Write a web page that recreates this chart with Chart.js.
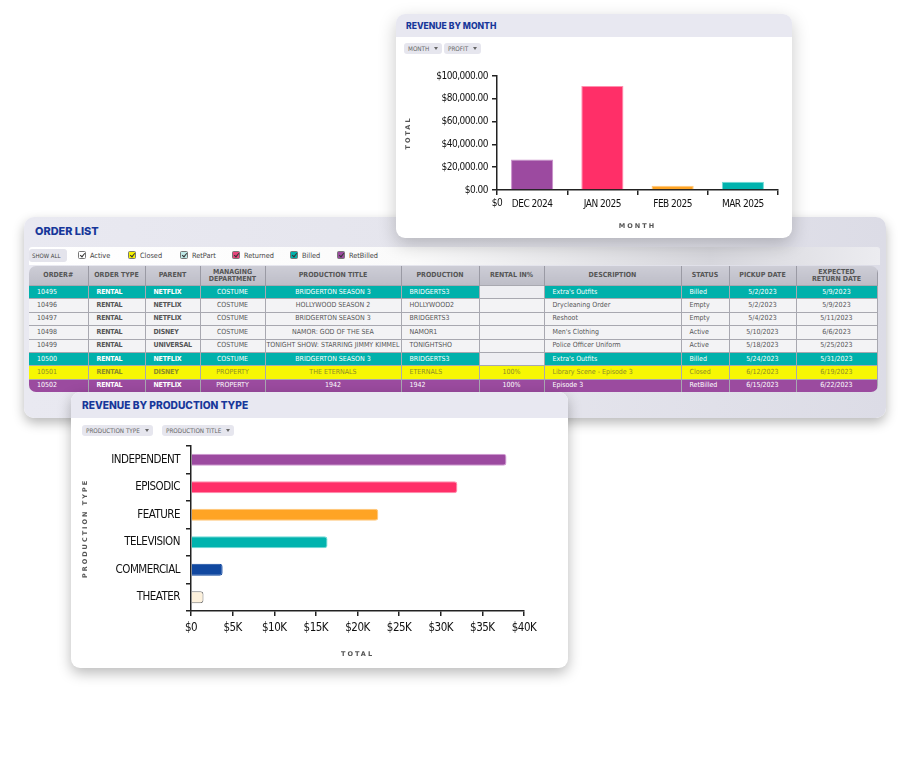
<!DOCTYPE html>
<html>
<head>
<meta charset="utf-8">
<title>Revenue dashboard</title>
<script src="https://cdn.jsdelivr.net/npm/chart.js"></script>
<style>
  html, body { margin: 0; padding: 0; background: #fff; width: 921px; height: 776px; overflow: hidden; }
  body { position: relative; font-family: 'DejaVu Sans Condensed', 'Liberation Sans', Arial, sans-serif; }
  .card { position: absolute; background: #fff; border-radius: 9px; overflow: hidden; }
  .card-head { position: absolute; left: 0; top: 0; right: 0; background: #e8e8f1; }
  .card-title { position: absolute; font-family: Inter, 'Open Sans', sans-serif; font-weight: 800; color: #17379a; white-space: nowrap; }
  .dd { position: absolute; background: #e6e6ee; border-radius: 3px; color: #666; font-size: 6.3px; line-height: 11px; height: 11px; padding: 0 4px; white-space: nowrap; }
  .dd::after { content: ''; display: inline-block; margin-left: 5px; vertical-align: 1px; border-left: 2.5px solid transparent; border-right: 2.5px solid transparent; border-top: 3px solid #666; }
  canvas { position: absolute; }

  #orders { left: 24px; top: 217px; width: 862px; height: 201px; background: linear-gradient(90deg, #e9e9f1 0%, #e4e4ec 60%, #dcdce6 100%); box-shadow: 0 5px 12px rgba(0,0,0,0.28); border-radius: 10px; overflow: visible; }
  #filters { position: absolute; left: 5px; top: 30px; width: 851px; height: 18px; background: linear-gradient(90deg, #fff 0%, #fafafa 45%, #d6d6dc 80%, #ececf0 100%); border-radius: 3px 3px 0 0; }
  .showall { position: absolute; left: 0; top: 2px; width: 38px; height: 13px; background: #e4e4ec; border-radius: 3px; font-size: 6px; line-height: 13px; text-indent: 3px; color: #444; }
  .chk { position: absolute; top: 4px; font-size: 7.3px; line-height: 9px; color: #444; white-space: nowrap; }
  .chk i { display: inline-block; width: 6px; height: 6px; border: 1px solid #777; border-radius: 1.5px; margin-right: 4px; vertical-align: -1px; position: relative; }
  .chk i::after { content: ''; position: absolute; left: 1.5px; top: -0.5px; width: 2px; height: 4px; border-right: 1px solid #333; border-bottom: 1px solid #333; transform: rotate(40deg); }
  table { position: absolute; left: 5px; top: 49px; border-collapse: collapse; table-layout: fixed; width: 848px; border-radius: 7px; overflow: hidden; }
  th { height: 19px; background: linear-gradient(#cdcdd6, #bdbdc7); color: #555; font-size: 7px; font-weight: bold; line-height: 6.5px; border-right: 1px solid #9a9aa4; padding: 0; text-align: center; }
  td { height: 12.4px; font-size: 7px; line-height: 7px; padding: 0 0 0 8px; border-right: 1px solid #a8a8b0; border-top: 1px solid #a8a8b0; white-space: nowrap; overflow: hidden; color: #555; background: #f3f3f5; }
  td.c { text-align: center; padding: 0; }
  td.b { font-weight: bold; letter-spacing: -0.2px; }
  tr.teal td { background: #00b1ab; color: #fff; }
  tr.teal td.blank { background: #eeeef2; }
  tr.yellow td { background: #f7f703; color: #8c8c2a; }
  tr.purple td { background: #9b4b9f; color: #fff; }
  tr.purple td.blank { background: #8e4193; }
</style>
</head>
<body>
<script>
// ---- chart data ----
const months = ['DEC 2024', 'JAN 2025', 'FEB 2025', 'MAR 2025'];
const monthTotals = [26700, 91200, 3700, 7300];
const monthColors = ['#9c4aa0', '#ff2f68', '#ffa424', '#00b3ae'];
const monthBorders = ['#c98fcb', '#ff8fae', '#ffc77a', '#6fdcd6'];
const monthZeroLabel = '$0';

const prodTypes = ['INDEPENDENT', 'EPISODIC', 'FEATURE', 'TELEVISION', 'COMMERCIAL', 'THEATER'];
const prodTotals = [37900, 32000, 22500, 16400, 3800, 1500];
const prodColors = ['#9c4aa0', '#ff2f68', '#ffa424', '#00b3ae', '#1148a0', '#fdf1dc'];
const prodBorders = ['#d29ad4', '#ff8fae', '#ffc77a', '#6fdcd6', '#1148a0', '#777777'];
const prodTickLabels = ['$0', '$5K', '$10K', '$15K', '$20K', '$25K', '$30K', '$35K', '$40K'];

// ---- order list data ----
const orderCols = ['ORDER#', 'ORDER TYPE', 'PARENT', 'MANAGING<br>DEPARTMENT', 'PRODUCTION TITLE', 'PRODUCTION', 'RENTAL IN%', 'DESCRIPTION', 'STATUS', 'PICKUP DATE', 'EXPECTED<br>RETURN DATE'];
const orderColWidths = [59, 57, 55, 65, 136, 78, 65, 137, 48, 67, 81];
const orderRows = [
  ['10495', 'RENTAL', 'NETFLIX', 'COSTUME', 'BRIDGERTON SEASON 3', 'BRIDGERTS3', '', "Extra's Outfits", 'Billed', '5/2/2023', '5/9/2023'],
  ['10496', 'RENTAL', 'NETFLIX', 'COSTUME', 'HOLLYWOOD SEASON 2', 'HOLLYWOOD2', '', 'Drycleaning Order', 'Empty', '5/2/2023', '5/9/2023'],
  ['10497', 'RENTAL', 'NETFLIX', 'COSTUME', 'BRIDGERTON SEASON 3', 'BRIDGERTS3', '', 'Reshoot', 'Empty', '5/4/2023', '5/11/2023'],
  ['10498', 'RENTAL', 'DISNEY', 'COSTUME', 'NAMOR: GOD OF THE SEA', 'NAMOR1', '', "Men's Clothing", 'Active', '5/10/2023', '6/6/2023'],
  ['10499', 'RENTAL', 'UNIVERSAL', 'COSTUME', 'TONIGHT SHOW: STARRING JIMMY KIMMEL', 'TONIGHTSHO', '', 'Police Officer Uniform', 'Active', '5/18/2023', '5/25/2023'],
  ['10500', 'RENTAL', 'NETFLIX', 'COSTUME', 'BRIDGERTON SEASON 3', 'BRIDGERTS3', '', "Extra's Outfits", 'Billed', '5/24/2023', '5/31/2023'],
  ['10501', 'RENTAL', 'DISNEY', 'PROPERTY', 'THE ETERNALS', 'ETERNALS', '100%', 'Library Scene - Episode 3', 'Closed', '6/12/2023', '6/19/2023'],
  ['10502', 'RENTAL', 'NETFLIX', 'PROPERTY', '1942', '1942', '100%', 'Episode 3', 'RetBilled', '6/15/2023', '6/22/2023']
];
const rowStyles = ['teal', '', '', '', '', 'teal', 'yellow', 'purple'];
const colAlign = ['', 'b', 'b', 'c', 'c', '', 'c', '', '', 'c', 'c'];
const filters = [['Active', '#ffffff'], ['Closed', '#f4f000'], ['RetPart', '#bfe9e6'], ['Returned', '#e6467c'], ['Billed', '#00b1ab'], ['RetBilled', '#9b4b9f']];
const filterX = [49, 99, 151, 203, 261, 308];
</script>

<!-- order list card -->
<div class="card" id="orders">
  <div class="card-title" style="left:11px; top:7px; font-size:10.9px;">ORDER LIST</div>
  <div id="filters"><div class="showall">SHOW ALL</div></div>
  <table id="ordertable"></table>
</div>

<!-- revenue by month card -->
<div class="card" style="left:396px; top:14px; width:396px; height:224px; box-shadow:0 6px 18px rgba(0,0,0,0.22);">
  <div class="card-head" style="height:23px;"></div>
  <div class="card-title" style="left:10px; top:7px; font-size:8.6px;">REVENUE BY MONTH</div>
  <div class="dd" style="left:8px; top:29px;">MONTH</div>
  <div class="dd" style="left:48px; top:29px;">PROFIT</div>
  <canvas id="monthChart" width="396" height="172" style="left:0; top:48px;"></canvas>
</div>

<!-- revenue by production type card -->
<div class="card" style="left:71px; top:392px; width:497px; height:276px; box-shadow:0 5px 14px rgba(0,0,0,0.28);">
  <div class="card-head" style="height:26px;"></div>
  <div class="card-title" style="left:11px; top:7px; font-size:10.2px;">REVENUE BY PRODUCTION TYPE</div>
  <div class="dd" style="left:11px; top:33px;">PRODUCTION TYPE</div>
  <div class="dd" style="left:91px; top:33px;">PRODUCTION TITLE</div>
  <canvas id="prodChart" width="497" height="226" style="left:0; top:48px;"></canvas>
</div>

<script>
// build the order list table
const tbl = document.getElementById('ordertable');
let html = '<colgroup>' + orderColWidths.map(w => '<col style="width:' + w + 'px">').join('') + '</colgroup>';
html += '<tr>' + orderCols.map(c => '<th>' + c + '</th>').join('') + '</tr>';
orderRows.forEach((r, i) => {
  html += '<tr class="' + rowStyles[i] + '">' + r.map((v, j) => {
    let cls = colAlign[j];
    if (j === 6 && v === '') cls += ' blank';
    return '<td class="' + cls + '">' + v + '</td>';
  }).join('') + '</tr>';
});
tbl.innerHTML = html;

const fbox = document.getElementById('filters');
filters.forEach((f, i) => {
  const d = document.createElement('div');
  d.className = 'chk';
  d.style.left = filterX[i] + 'px';
  d.innerHTML = '<i style="background:' + f[1] + '"></i>' + f[0];
  fbox.appendChild(d);
});

// ---- charts ----
const tickFont = "'DejaVu Sans Condensed', 'Liberation Sans', Arial, sans-serif";
const titleFont = "'DejaVu Sans', Arial, sans-serif";

// spaced axis titles, slightly tightened tick labels
const letterSpacing = {
  id: 'letterSpacing',
  afterUpdate(chart) {
    Object.values(chart.scales).forEach(s => {
      if (s._spaced) return;
      const title = s.drawTitle.bind(s);
      const labels = s.drawLabels.bind(s);
      s.drawTitle = function () {
        const c = this.ctx; c.save(); c.letterSpacing = '2px'; title(); c.restore();
      };
      s.drawLabels = function (area) {
        const c = this.ctx; c.save(); c.letterSpacing = '-0.5px'; labels(area); c.restore();
      };
      s._spaced = true;
    });
  }
};

// the "$0" label that sits under the origin of the month chart
const zeroLabel = {
  id: 'zeroLabel',
  afterDraw(chart) {
    const xs = chart.scales.x, c = chart.ctx;
    c.save();
    c.font = '10px ' + tickFont;
    c.letterSpacing = '-0.5px';
    c.fillStyle = '#111';
    c.textAlign = 'center';
    c.textBaseline = 'middle';
    c.fillText(monthZeroLabel, xs.left, xs.top + 13);
    c.restore();
  }
};

function noScalePadding(s) {
  s.paddingTop = 0; s.paddingBottom = 0; s.paddingLeft = 0; s.paddingRight = 0;
}

new Chart(document.getElementById('monthChart'), {
  type: 'bar',
  data: {
    labels: months,
    datasets: [{
      data: monthTotals,
      backgroundColor: monthColors,
      borderColor: monthBorders,
      borderWidth: 1,
      barPercentage: 0.6,
      categoryPercentage: 1
    }]
  },
  options: {
    responsive: false,
    animation: false,
    layout: { padding: { top: 14, right: 14, bottom: 4, left: 0 } },
    plugins: { legend: { display: false }, tooltip: { enabled: false } },
    scales: {
      x: {
        grid: { drawOnChartArea: false, tickLength: 5, color: '#222', lineWidth: 1.5 },
        border: { color: '#222', width: 1.5 },
        ticks: { color: '#111', font: { size: 10, family: tickFont }, padding: 3 },
        title: { display: true, text: 'MONTH', color: '#555', font: { size: 6.5, weight: 'bold', family: titleFont }, padding: { top: 4, bottom: 0 } },
        afterFit(s) { s.height = 40; noScalePadding(s); }
      },
      y: {
        min: 0, max: 100000,
        grid: { drawOnChartArea: false, tickLength: 5, color: '#222', lineWidth: 1.5 },
        border: { color: '#222', width: 1.5 },
        ticks: {
          stepSize: 20000, color: '#111', padding: 4,
          font: { size: 10, family: tickFont },
          callback: v => '$' + v.toLocaleString('en-US', { minimumFractionDigits: 2, maximumFractionDigits: 2 })
        },
        title: { display: true, text: 'TOTAL', color: '#555', font: { size: 6.5, weight: 'bold', family: titleFont }, padding: { top: 8, bottom: 4 } },
        afterFit(s) { s.width = 101; noScalePadding(s); }
      }
    }
  },
  plugins: [letterSpacing, zeroLabel]
});

new Chart(document.getElementById('prodChart'), {
  type: 'bar',
  data: {
    labels: prodTypes,
    datasets: [{
      data: prodTotals,
      backgroundColor: prodColors,
      borderColor: prodBorders,
      borderWidth: 1,
      borderRadius: 3,
      borderSkipped: 'start',
      barPercentage: 0.55,
      categoryPercentage: 0.8
    }]
  },
  options: {
    indexAxis: 'y',
    responsive: false,
    animation: false,
    layout: { padding: { top: 6, right: 44, bottom: 4, left: 0 } },
    plugins: { legend: { display: false }, tooltip: { enabled: false } },
    scales: {
      x: {
        min: 0, max: 40000,
        grid: { drawOnChartArea: false, tickLength: 5, color: '#222', lineWidth: 1.5 },
        border: { color: '#222', width: 1.5 },
        ticks: { stepSize: 5000, color: '#111', padding: 5, font: { size: 11.5, family: tickFont }, callback: (v, i) => prodTickLabels[i] },
        title: { display: true, text: 'TOTAL', color: '#555', font: { size: 6.5, weight: 'bold', family: titleFont }, padding: { top: 4, bottom: 4 } },
        afterFit(s) { s.height = 51; noScalePadding(s); }
      },
      y: {
        grid: { drawOnChartArea: false, tickLength: 5, color: '#222', lineWidth: 1.5 },
        border: { color: '#222', width: 1.5 },
        ticks: { color: '#111', padding: 6, font: { size: 11.5, family: tickFont } },
        title: { display: true, text: 'PRODUCTION TYPE', color: '#555', font: { size: 6.5, weight: 'bold', family: titleFont }, padding: { top: 10, bottom: 4 } },
        afterFit(s) { s.width = 120; noScalePadding(s); }
      }
    }
  },
  plugins: [letterSpacing]
});
</script>
</body>
</html>
